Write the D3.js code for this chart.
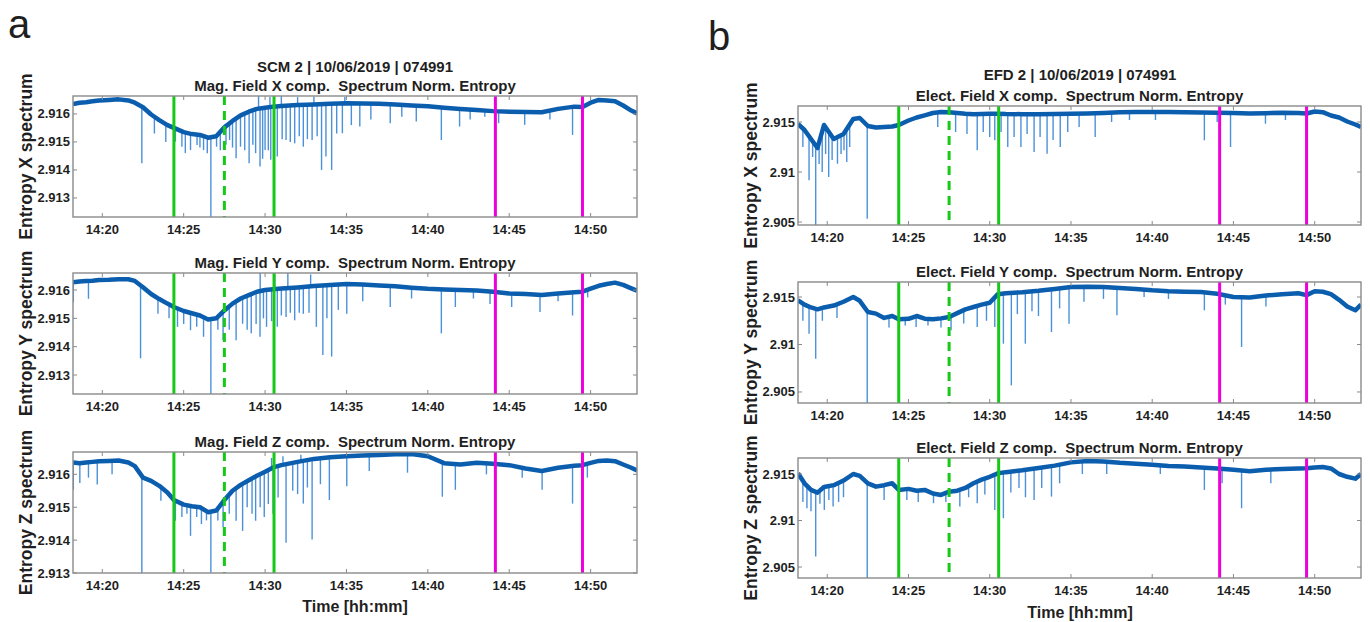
<!DOCTYPE html>
<html>
<head>
<meta charset="utf-8">
<script src="https://cdn.jsdelivr.net/npm/d3@7"></script>
<style>
    body { margin: 0; background: #fff; }
    svg text { font-family: "Liberation Sans", Arial, sans-serif; fill: #1f1f1f; white-space: pre; }
    .tick-label { font-size: 13px; font-weight: bold; }
    .plot-title { font-size: 15px; font-weight: bold; }
    .axis-label { font-size: 17.5px; font-weight: bold; }
    .panel-letter { font-size: 40px; }
    .frame { fill: none; stroke: #8a8a8a; stroke-width: 1.4; }
    .tick-mark { stroke: #8a8a8a; stroke-width: 1; }
</style>
</head>
<body>
<div id="wrapper"></div>
<script>
// time in minutes after 14:00
const times = [18.2, 18.6, 19.0, 19.4, 19.8, 20.4, 21.0, 21.6, 22.0, 22.5, 23.0, 23.5, 24.0, 24.4, 25.0, 25.5,
    26.0, 26.5, 27.0, 27.5, 28.0, 28.5, 29.0, 29.5, 30.0, 30.5, 31.0, 32.0, 33.0, 34.0, 35.0, 36.0, 37.0, 38.0,
    39.0, 40.0, 41.0, 42.0, 43.0, 44.0, 45.0, 46.0, 47.0, 48.0, 49.0, 49.5, 50.0, 50.5, 51.0, 51.5, 52.0, 52.5, 52.85];

// SCM 2 (magnetic field) entropy
const scmX = [2.91635, 2.91640, 2.91642, 2.91645, 2.91648, 2.91650, 2.91652, 2.91648, 2.91640, 2.91624, 2.91598,
    2.91578, 2.91560, 2.91550, 2.91535, 2.91528, 2.91525, 2.91515, 2.91520, 2.91552, 2.91575, 2.91595, 2.91608,
    2.91618, 2.91622, 2.91626, 2.91628, 2.91632, 2.91634, 2.91636, 2.91638, 2.91637, 2.91636, 2.91634, 2.91630,
    2.91627, 2.91622, 2.91618, 2.91614, 2.91610, 2.91608, 2.91607, 2.91606, 2.91618, 2.91626, 2.91625, 2.91640,
    2.91650, 2.91648, 2.91645, 2.91630, 2.91612, 2.91602];
const scmY = [2.91627, 2.91630, 2.91632, 2.91633, 2.91635, 2.91636, 2.91638, 2.91638, 2.91632, 2.91610, 2.91586,
    2.91568, 2.91552, 2.91540, 2.91526, 2.91518, 2.91510, 2.91496, 2.91500, 2.91528, 2.91552, 2.91570, 2.91582,
    2.91594, 2.91600, 2.91603, 2.91605, 2.91609, 2.91614, 2.91618, 2.91621, 2.91619, 2.91616, 2.91613, 2.91608,
    2.91604, 2.91602, 2.91600, 2.91598, 2.91594, 2.91588, 2.91586, 2.91582, 2.91588, 2.91592, 2.91594, 2.91605,
    2.91615, 2.91621, 2.91626, 2.91618, 2.91606, 2.91598];
const scmZ = [2.91636, 2.91634, 2.91636, 2.91638, 2.91640, 2.91641, 2.91642, 2.91636, 2.91625, 2.91590, 2.91580,
    2.91565, 2.91545, 2.91522, 2.91508, 2.91503, 2.91500, 2.91485, 2.91490, 2.91522, 2.91550, 2.91568, 2.91582,
    2.91596, 2.91608, 2.91621, 2.91628, 2.91638, 2.91647, 2.91652, 2.91655, 2.91657, 2.91659, 2.91661, 2.91662,
    2.91655, 2.91634, 2.91630, 2.91635, 2.91632, 2.91628, 2.91618, 2.91610, 2.91620, 2.91626, 2.91628, 2.91635,
    2.91641, 2.91642, 2.91640, 2.91630, 2.91620, 2.91612];

// EFD 2 (electric field) entropy
const efdX = [2.91480, 2.91420, 2.91330, 2.91240, 2.91470, 2.91330, 2.91380, 2.91530, 2.91540, 2.91460, 2.91445,
    2.91450, 2.91455, 2.91470, 2.91515, 2.91545, 2.91567, 2.91590, 2.91600, 2.91598, 2.91590, 2.91582, 2.91577,
    2.91580, 2.91582, 2.91583, 2.91580, 2.91578, 2.91577, 2.91580, 2.91583, 2.91585, 2.91590, 2.91598, 2.91600,
    2.91600, 2.91600, 2.91598, 2.91595, 2.91593, 2.91590, 2.91585, 2.91588, 2.91593, 2.91590, 2.91585, 2.91605,
    2.91598, 2.91565, 2.91545, 2.91505, 2.91475, 2.91450];
const efdY = [2.91465, 2.91420, 2.91390, 2.91370, 2.91390, 2.91410, 2.91450, 2.91500, 2.91460, 2.91342, 2.91325,
    2.91280, 2.91300, 2.91265, 2.91270, 2.91300, 2.91272, 2.91265, 2.91275, 2.91290, 2.91330, 2.91370, 2.91395,
    2.91420, 2.91440, 2.91530, 2.91540, 2.91550, 2.91565, 2.91585, 2.91605, 2.91608, 2.91605, 2.91595, 2.91585,
    2.91570, 2.91560, 2.91555, 2.91552, 2.91535, 2.91500, 2.91495, 2.91515, 2.91530, 2.91540, 2.91520, 2.91560,
    2.91555, 2.91530, 2.91470, 2.91400, 2.91360, 2.91420];
const efdZ = [2.91507, 2.91400, 2.91329, 2.91300, 2.91360, 2.91380, 2.91430, 2.91500, 2.91480, 2.91400, 2.91364,
    2.91380, 2.91400, 2.91329, 2.91340, 2.91320, 2.91329, 2.91290, 2.91275, 2.91310, 2.91320, 2.91350, 2.91400,
    2.91440, 2.91470, 2.91507, 2.91520, 2.91540, 2.91565, 2.91590, 2.91625, 2.91640, 2.91635, 2.91620, 2.91610,
    2.91600, 2.91585, 2.91580, 2.91570, 2.91560, 2.91545, 2.91530, 2.91545, 2.91555, 2.91560, 2.91561, 2.91570,
    2.91575, 2.91560, 2.91500, 2.91470, 2.91450, 2.91500];

// spikes off the trace: [time, extreme value]
const scmSpikesX = [[22.43, 2.91424], [23.2, 2.9153], [23.9, 2.9150], [24.49, 2.91501], [24.89, 2.91483],
    [25.1, 2.9146], [25.42, 2.91471], [25.82, 2.91489], [26.0, 2.9148], [26.22, 2.91471], [26.45, 2.9146],
    [26.67, 2.9120], [27.02, 2.91483], [27.25, 2.9147], [27.6, 2.9149], [27.82, 2.91507], [28.0, 2.9148],
    [28.22, 2.91442], [28.49, 2.91483], [28.75, 2.9147], [29.02, 2.91424], [29.25, 2.9149], [29.42, 2.9146],
    [29.69, 2.91412], [29.85, 2.9144], [30.0, 2.91471], [30.2, 2.9147], [30.35, 2.91436], [30.55, 2.9150],
    [30.75, 2.91448], [31.05, 2.9151], [31.29, 2.91507], [31.55, 2.9150], [31.82, 2.91495], [32.1, 2.9152],
    [32.35, 2.91483], [32.6, 2.9151], [32.89, 2.91507], [33.2, 2.9152], [33.47, 2.914], [33.74, 2.91448],
    [34.09, 2.914], [34.4, 2.9153], [34.75, 2.91531], [35.3, 2.9156], [35.82, 2.91555], [36.5, 2.9158],
    [37.69, 2.91567], [38.4, 2.9159], [39.29, 2.91573], [40.83, 2.91507], [41.95, 2.91555], [42.6, 2.9158],
    [43.5, 2.9159], [44.35, 2.91567], [45.95, 2.91561], [47.5, 2.9158], [48.89, 2.91525],
    [29.6, 2.91664], [30.3, 2.9166], [31.0, 2.91664], [32.0, 2.9166], [33.0, 2.91662], [34.9, 2.9166]];
const scmSpikesY = [[18.22, 2.91557], [19.15, 2.91569], [22.35, 2.91359], [23.42, 2.91516], [24.1, 2.9150],
    [24.62, 2.9147], [25.0, 2.9148], [25.42, 2.91458], [25.8, 2.9147], [26.22, 2.91435], [26.67, 2.9120],
    [27.1, 2.9146], [27.42, 2.91423], [27.8, 2.9146], [28.22, 2.91423], [28.62, 2.91481], [28.9, 2.9146],
    [29.15, 2.91447], [29.45, 2.9148], [29.69, 2.91435], [29.9, 2.9150], [30.09, 2.9147], [30.4, 2.9149],
    [30.75, 2.9147], [31.0, 2.9151], [31.29, 2.91505], [31.55, 2.9152], [31.82, 2.91493], [32.1, 2.9152],
    [32.35, 2.91516], [32.7, 2.9152], [33.15, 2.9147], [33.55, 2.91371], [33.8, 2.9150], [34.09, 2.91365],
    [34.5, 2.9153], [35.02, 2.91516], [36.0, 2.9156], [37.69, 2.9154], [39.0, 2.9157], [40.83, 2.91447],
    [41.69, 2.9154], [42.8, 2.9157], [43.82, 2.91551], [45.15, 2.9154], [46.89, 2.91522], [48.0, 2.9156],
    [48.89, 2.9151], [49.82, 2.91574], [29.7, 2.9166], [30.6, 2.91655], [31.4, 2.9166], [32.8, 2.91655]];
const scmSpikesZ = [[18.22, 2.91553], [18.62, 2.91574], [19.15, 2.9159], [19.69, 2.91569], [20.6, 2.9160],
    [22.43, 2.91300], [23.6, 2.9152], [24.49, 2.91459], [24.89, 2.9147], [25.2, 2.9148], [25.42, 2.91413],
    [25.8, 2.9147], [26.09, 2.91449], [26.4, 2.9146], [26.67, 2.9129], [27.1, 2.9146], [27.42, 2.91439],
    [27.8, 2.9148], [28.22, 2.91459], [28.62, 2.91428], [28.9, 2.9150], [29.2, 2.9148], [29.42, 2.91459],
    [29.7, 2.9150], [29.95, 2.9147], [30.2, 2.9151], [30.49, 2.9148], [30.8, 2.9153], [31.29, 2.91392],
    [31.7, 2.9155], [32.0, 2.9154], [32.35, 2.91511], [32.6, 2.9156], [32.89, 2.91402], [33.4, 2.9157],
    [33.95, 2.91522], [35.02, 2.91564], [36.4, 2.9161], [38.75, 2.91605], [40.89, 2.91532], [41.69, 2.91553],
    [43.6, 2.9160], [45.8, 2.9159], [47.02, 2.91553], [48.89, 2.91511], [49.8, 2.9159],
    [30.4, 2.9165], [31.1, 2.91655], [32.2, 2.9166]];
const efdSpikesX = [[18.5, 2.9125], [18.88, 2.90917], [19.1, 2.9115], [19.29, 2.9040], [19.5, 2.9108],
    [19.69, 2.9100], [19.9, 2.9118], [20.09, 2.9095], [20.3, 2.9112], [20.63, 2.91083], [20.85, 2.9118],
    [21.03, 2.91217], [21.2, 2.9110], [21.38, 2.9125], [22.46, 2.90533], [26.8, 2.9145], [27.9, 2.9140],
    [28.6, 2.9138], [29.23, 2.91217], [29.6, 2.9140], [30.0, 2.9135], [30.31, 2.91317], [30.7, 2.9140],
    [31.11, 2.9125], [31.5, 2.9135], [31.92, 2.9125], [32.3, 2.9138], [32.73, 2.912], [33.1, 2.9135],
    [33.53, 2.91183], [33.9, 2.9132], [34.34, 2.9125], [34.8, 2.9140], [35.5, 2.9145], [36.49, 2.9135],
    [37.5, 2.9150], [38.6, 2.9152], [40.2, 2.9152], [43.21, 2.91317], [44.0, 2.9150], [44.82, 2.9125],
    [46.97, 2.91483], [48.2, 2.9152]];
const efdSpikesY = [[18.5, 2.9125], [18.88, 2.91114], [19.29, 2.90851], [19.7, 2.9125], [20.6, 2.9128],
    [22.46, 2.9030], [23.8, 2.9118], [24.8, 2.9120], [25.47, 2.91184], [26.2, 2.9120], [27.0, 2.9118],
    [27.62, 2.91149], [28.4, 2.9122], [29.23, 2.91184], [29.8, 2.9125], [30.31, 2.91184], [30.84, 2.91009],
    [31.33, 2.9057], [31.7, 2.9132], [32.19, 2.91009], [32.6, 2.9135], [33.0, 2.9130], [33.8, 2.91132],
    [34.3, 2.9138], [34.88, 2.91219], [35.8, 2.9145], [37.0, 2.9148], [37.83, 2.91307], [39.5, 2.9150],
    [41.0, 2.9148], [43.21, 2.9136], [44.5, 2.9142], [45.5, 2.90974], [47.0, 2.9140]];
const efdSpikesZ = [[18.5, 2.9120], [18.75, 2.91132], [19.0, 2.9110], [19.29, 2.90614], [19.55, 2.9118],
    [19.82, 2.91114], [20.1, 2.9122], [20.36, 2.9115], [20.7, 2.9120], [21.0, 2.9125], [22.46, 2.9030],
    [23.5, 2.9122], [24.9, 2.9122], [25.6, 2.9120], [26.54, 2.91186], [27.3, 2.9120], [28.16, 2.9115],
    [28.7, 2.9125], [29.23, 2.91186], [29.7, 2.9128], [30.31, 2.91114], [30.84, 2.91025], [31.3, 2.9130],
    [31.8, 2.9135], [32.2, 2.9125], [32.73, 2.91221], [33.2, 2.9135], [33.8, 2.91257], [34.3, 2.9140],
    [35.7, 2.9150], [37.2, 2.9150], [40.5, 2.9150], [43.21, 2.91329], [44.3, 2.9140], [45.5, 2.91132],
    [47.3, 2.9140]];

// event markers
const greenSolid = [24.4, 30.55];
const greenDashed = [27.5];
const magentaLines = [44.15, 49.5];

const xTicks = [20, 25, 30, 35, 40, 45, 50];
const scmTicks = [2.913, 2.914, 2.915, 2.916];
const efdTicks = [2.905, 2.91, 2.915];

function draw() {

    // 1. Chart dimensions
    const dimensions = { width: 1370, height: 622 };
    const timeDomain = [18.2, 52.85];

    const wrapper = d3.select('#wrapper')
        .append('svg')
        .attr('width', dimensions.width)
        .attr('height', dimensions.height);

    const defs = wrapper.append('defs');

    const panels = [
        { left: 73, right: 637, top: 96, bottom: 217, domain: [2.91232, 2.91664], ticks: scmTicks,
          values: scmX, spikes: scmSpikesX, title: 'Mag. Field X comp.  Spectrum Norm. Entropy',
          ylabel: 'Entropy X spectrum' },
        { left: 73, right: 637, top: 273, bottom: 394, domain: [2.91233, 2.91660], ticks: scmTicks,
          values: scmY, spikes: scmSpikesY, title: 'Mag. Field Y comp.  Spectrum Norm. Entropy',
          ylabel: 'Entropy Y spectrum' },
        { left: 73, right: 637, top: 452, bottom: 573, domain: [2.91300, 2.91668], ticks: scmTicks,
          values: scmZ, spikes: scmSpikesZ, title: 'Mag. Field Z comp.  Spectrum Norm. Entropy',
          ylabel: 'Entropy Z spectrum' },
        { left: 798, right: 1361, top: 106, bottom: 225, domain: [2.9047, 2.9166], ticks: efdTicks,
          values: efdX, spikes: efdSpikesX, title: 'Elect. Field X comp.  Spectrum Norm. Entropy',
          ylabel: 'Entropy X spectrum' },
        { left: 798, right: 1361, top: 282, bottom: 403, domain: [2.90384, 2.91658], ticks: efdTicks,
          values: efdY, spikes: efdSpikesY, title: 'Elect. Field Y comp.  Spectrum Norm. Entropy',
          ylabel: 'Entropy Y spectrum' },
        { left: 798, right: 1361, top: 458, bottom: 578, domain: [2.90382, 2.91672], ticks: efdTicks,
          values: efdZ, spikes: efdSpikesZ, title: 'Elect. Field Z comp.  Spectrum Norm. Entropy',
          ylabel: 'Entropy Z spectrum' },
    ];

    const timeFormat = m => `14:${m}`;
    const valueFormat = v => String(+v.toFixed(3));

    // 2. Draw each subplot
    panels.forEach((p, i) => {
        const xScale = d3.scaleLinear().domain(timeDomain).range([p.left, p.right]);
        const yScale = d3.scaleLinear().domain(p.domain).range([p.bottom, p.top]);

        const clipId = `clip-${i}`;
        defs.append('clipPath').attr('id', clipId)
            .append('rect')
            .attr('x', p.left).attr('y', p.top)
            .attr('width', p.right - p.left).attr('height', p.bottom - p.top);

        const g = wrapper.append('g');
        const plot = g.append('g').attr('clip-path', `url(#${clipId})`);

        const series = times.map((t, j) => ({ t, v: p.values[j] }));
        const baseAt = d3.scaleLinear().domain(times).range(p.values);

        // spikes under the main trace
        plot.selectAll('.spike')
            .data(p.spikes)
            .enter()
            .append('line')
            .attr('class', 'spike')
            .attr('x1', d => xScale(d[0]))
            .attr('x2', d => xScale(d[0]))
            .attr('y1', d => yScale(baseAt(d[0])))
            .attr('y2', d => yScale(d[1]))
            .attr('stroke', '#4b91d9')
            .attr('stroke-width', 1.4);

        const lineGenerator = d3.line()
            .x(d => xScale(d.t))
            .y(d => yScale(d.v))
            .curve(d3.curveLinear);

        plot.append('path')
            .datum(series)
            .attr('d', lineGenerator)
            .attr('fill', 'none')
            .attr('stroke', '#0b5dae')
            .attr('stroke-width', 4.5)
            .attr('stroke-linejoin', 'round');

        // event lines
        const events = [
            ...greenSolid.map(t => ({ t, color: '#16c916', dash: null })),
            ...greenDashed.map(t => ({ t, color: '#16c916', dash: '9,6' })),
            ...magentaLines.map(t => ({ t, color: '#ee00dc', dash: null })),
        ];
        plot.selectAll('.event')
            .data(events)
            .enter()
            .append('line')
            .attr('class', 'event')
            .attr('x1', d => xScale(d.t))
            .attr('x2', d => xScale(d.t))
            .attr('y1', p.top)
            .attr('y2', p.bottom)
            .attr('stroke', d => d.color)
            .attr('stroke-width', 3)
            .attr('stroke-dasharray', d => d.dash);

        // frame
        g.append('rect')
            .attr('class', 'frame')
            .attr('x', p.left).attr('y', p.top)
            .attr('width', p.right - p.left).attr('height', p.bottom - p.top);

        // inward ticks (matlab style, all four sides)
        const tl = 4;
        xTicks.forEach(t => {
            const x = xScale(t);
            g.append('line').attr('class', 'tick-mark')
                .attr('x1', x).attr('x2', x).attr('y1', p.bottom).attr('y2', p.bottom - tl);
            g.append('line').attr('class', 'tick-mark')
                .attr('x1', x).attr('x2', x).attr('y1', p.top).attr('y2', p.top + tl);
        });
        p.ticks.forEach(v => {
            const y = yScale(v);
            g.append('line').attr('class', 'tick-mark')
                .attr('x1', p.left).attr('x2', p.left + tl).attr('y1', y).attr('y2', y);
            g.append('line').attr('class', 'tick-mark')
                .attr('x1', p.right).attr('x2', p.right - tl).attr('y1', y).attr('y2', y);
        });

        g.selectAll('.xlab')
            .data(xTicks)
            .enter()
            .append('text')
            .attr('class', 'tick-label')
            .attr('x', d => xScale(d))
            .attr('y', p.bottom + 17)
            .attr('text-anchor', 'middle')
            .text(timeFormat);

        g.selectAll('.ylab')
            .data(p.ticks)
            .enter()
            .append('text')
            .attr('class', 'tick-label')
            .attr('x', p.left - 3)
            .attr('y', d => yScale(d) + 4.5)
            .attr('text-anchor', 'end')
            .text(valueFormat);

        g.append('text')
            .attr('class', 'plot-title')
            .attr('x', (p.left + p.right) / 2)
            .attr('y', p.top - 5)
            .attr('text-anchor', 'middle')
            .text(p.title);

        const cy = (p.top + p.bottom) / 2;
        g.append('text')
            .attr('class', 'axis-label')
            .attr('transform', `translate(${p.left - 47},${cy}) rotate(-90)`)
            .attr('text-anchor', 'middle')
            .attr('dy', '0.35em')
            .text(p.ylabel);
    });

    // 3. Peripherals
    wrapper.append('text').attr('class', 'plot-title')
        .attr('x', 355).attr('y', 72).attr('text-anchor', 'middle')
        .text('SCM 2 | 10/06/2019 | 074991');
    wrapper.append('text').attr('class', 'plot-title')
        .attr('x', 1080).attr('y', 80).attr('text-anchor', 'middle')
        .text('EFD 2 | 10/06/2019 | 074991');

    wrapper.append('text').attr('class', 'axis-label')
        .attr('x', 355).attr('y', 612).attr('text-anchor', 'middle')
        .style('font-size', '16px')
        .text('Time [hh:mm]');
    wrapper.append('text').attr('class', 'axis-label')
        .attr('x', 1080).attr('y', 618).attr('text-anchor', 'middle')
        .style('font-size', '16px')
        .text('Time [hh:mm]');

    wrapper.append('text').attr('class', 'panel-letter')
        .attr('x', 8).attr('y', 38).text('a');
    wrapper.append('text').attr('class', 'panel-letter')
        .attr('x', 708).attr('y', 50).text('b');
}

draw();
</script>
</body>
</html>
